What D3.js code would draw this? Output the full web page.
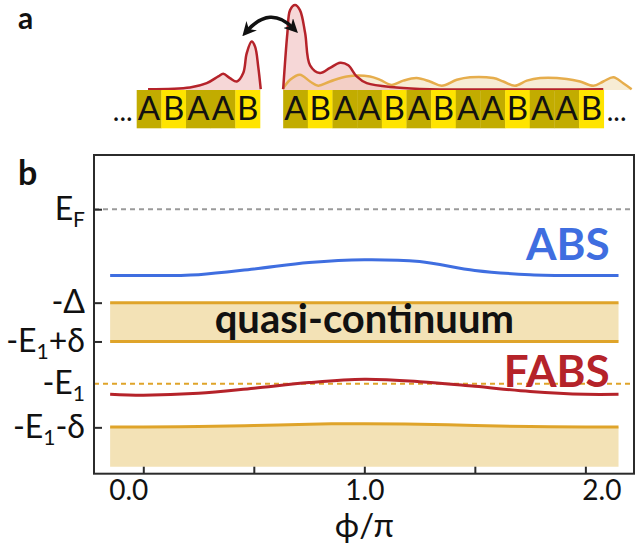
<!DOCTYPE html>
<html>
<head>
<meta charset="utf-8">
<script src="https://cdn.jsdelivr.net/npm/d3@7"></script>
<style>
body { margin: 0; background: #fff; }
svg text { font-family: Lato, "DejaVu Sans", sans-serif; fill: #111; }
</style>
</head>
<body>
<svg id="fig" width="640" height="549"></svg>
<script>
// ---- panel a: chain of sites ----
const chainLeft = "ABAAB".split("");
const chainRight = "ABAABABAABAAB".split("");
const rightStart = 5.94; // site index where right segment begins

// red state amplitude on the left piece (site position, amplitude)
const redLeftPos = [0.46, 2.16, 2.84, 3.31, 3.51, 3.78, 4.06, 4.32, 4.46, 4.66, 4.80, 4.93, 5.03];
const redLeftAmp = [0.01, 0.03, 0.08, 0.16, 0.19, 0.14, 0.10, 0.20, 0.43, 0.57, 0.51, 0.27, 0.01];
// red state on the right piece
const redRightPos = [5.94, 6.11, 6.22, 6.42, 6.62, 6.83, 7.03, 7.43, 7.84, 8.25, 8.58, 8.92, 9.33, 10.54, 11.89, 18.92];
const redRightAmp = [0.01, 0.67, 0.94, 1.00, 0.94, 0.67, 0.29, 0.20, 0.26, 0.32, 0.29, 0.16, 0.08, 0.03, 0.01, 0.01];
// orange state on the right piece
const orangePos = [5.92, 6.22, 6.62, 7.03, 7.36, 7.84, 8.52, 9.46, 9.87, 10.34, 10.81, 11.35, 11.89, 12.37,
  12.98, 13.52, 14.46, 14.87, 15.34, 15.82, 16.36, 17.44, 17.98, 18.52, 18.92, 19.33, 19.73, 20.07];
const orangeAmp = [0.01, 0.12, 0.18, 0.10, 0.05, 0.10, 0.16, 0.16, 0.12, 0.06, 0.11, 0.14, 0.10, 0.05,
  0.12, 0.15, 0.14, 0.10, 0.05, 0.11, 0.14, 0.13, 0.10, 0.05, 0.10, 0.15, 0.08, 0.01];

// ---- panel b: spectrum vs phase ----
const phi = [-0.15, 0, 0.25, 0.5, 0.75, 1, 1.25, 1.5, 1.75, 2, 2.15];
const absE = [-0.71, -0.71, -0.70, -0.64, -0.57, -0.54, -0.56, -0.655, -0.70, -0.71, -0.71];
const fabsE = [-1.98, -1.99, -1.97, -1.915, -1.855, -1.82, -1.845, -1.895, -1.95, -1.98, -1.98];
const lowContE = [-2.33, -2.33, -2.325, -2.315, -2.30, -2.295, -2.30, -2.315, -2.325, -2.33, -2.33];
const lowContBottom = -2.756;
const levelEF = 0;
const levelDelta = -1;
const levelE1pd = -1.415;
const levelE1 = -1.867;

const yTickValues = [0, -1, -1.415, -1.867, -2.334];
const yTickLabels = [["E", "F", ""], ["-\u0394", "", ""], ["-E", "1", "+\u03b4"], ["-E", "1", ""], ["-E", "1", "-\u03b4"]];
const xTickValues = [0, 0.5, 1, 1.5, 2];
const xTickLabels = ["0.0", "", "1.0", "", "2.0"];

const gold = "#dfa42a";
const band = "#f3e2b6";
const blue = "#3f6ee0";
const red = "#b5232a";

const svg = d3.select("#fig");

// defs: arrow head
const defs = svg.append("defs");
defs.append("marker")
  .attr("id", "head")
  .attr("viewBox", "0 0 10 10")
  .attr("refX", 5).attr("refY", 5)
  .attr("markerWidth", 14).attr("markerHeight", 14)
  .attr("markerUnits", "userSpaceOnUse")
  .attr("orient", "auto-start-reverse")
  .append("path")
  .attr("d", "M0,0 L10,5 L0,10 L3,5 Z")
  .attr("fill", "#111");

// ================= panel a =================
const sx = d3.scaleLinear().domain([0, 1]).range([136.7, 161.36]);
const sa = d3.scaleLinear().domain([0, 1]).range([90, 5]);
const cellW = sx(1) - sx(0);

svg.append("text").attr("x", 18).attr("y", 29)
  .attr("font-size", 30).attr("font-weight", 700).text("a");

const areaA = d3.area().x(d => sx(d[0])).y0(sa(0)).y1(d => sa(d[1])).curve(d3.curveCatmullRom);
const lineA = d3.line().x(d => sx(d[0])).y(d => sa(d[1])).curve(d3.curveCatmullRom);

const orangeData = d3.zip(orangePos, orangeAmp);
const redL = d3.zip(redLeftPos, redLeftAmp);
const redR = d3.zip(redRightPos, redRightAmp);

svg.append("path").datum(orangeData).attr("d", areaA).attr("fill", "#f1dcb0").attr("opacity", 0.55);
svg.append("path").datum(redL).attr("d", areaA).attr("fill", "#f0bcbc").attr("opacity", 0.6);
svg.append("path").datum(redR).attr("d", areaA).attr("fill", "#f0bcbc").attr("opacity", 0.6);
svg.append("path").datum(orangeData).attr("d", lineA).attr("fill", "none")
  .attr("stroke", "#e6ad4c").attr("stroke-width", 2.5);
[redL, redR].forEach(dd => {
  svg.append("path").datum(dd).attr("d", lineA).attr("fill", "none")
    .attr("stroke", red).attr("stroke-width", 2.5);
});

function drawChain(letters, start) {
  const g = svg.append("g");
  const cell = g.selectAll("g").data(letters).enter().append("g");
  cell.append("rect")
    .attr("x", (d, i) => sx(start + i))
    .attr("y", sa(0))
    .attr("width", cellW + 0.3)
    .attr("height", 38.3)
    .attr("fill", d => d === "A" ? "#c2ac00" : "#ffe400");
  cell.append("text")
    .attr("x", (d, i) => sx(start + i + 0.5))
    .attr("y", 120)
    .attr("text-anchor", "middle")
    .attr("font-size", 33)
    .text(d => d);
}
drawChain(chainLeft, 0);
drawChain(chainRight, rightStart);

svg.append("text").attr("x", sx(0) - 4).attr("y", 121).attr("text-anchor", "end")
  .attr("font-size", 28).text("...");
svg.append("text").attr("x", sx(rightStart + chainRight.length) + 3).attr("y", 121)
  .attr("font-size", 28).text("...");

// exchange arrow
svg.append("path")
  .attr("d", "M247,31 Q270,5 293,28")
  .attr("fill", "none").attr("stroke", "#111").attr("stroke-width", 3.5)
  .attr("marker-start", "url(#head)").attr("marker-end", "url(#head)");

// ================= panel b =================
const x = d3.scaleLinear().domain([-0.223, 2.22]).range([94, 634]);
const y = d3.scaleLinear().domain([-2.83, 0.58]).range([473.7, 155]);

svg.append("text").attr("x", 18).attr("y", 185)
  .attr("font-size", 34).attr("font-weight", 700).text("b");

const x0 = phi[0], x1 = phi[phi.length - 1];

// quasi-continuum band
svg.append("rect")
  .attr("x", x(x0)).attr("width", x(x1) - x(x0))
  .attr("y", y(levelDelta)).attr("height", y(levelE1pd) - y(levelDelta))
  .attr("fill", band);
// lower continuum
svg.append("path").datum(d3.zip(phi, lowContE))
  .attr("d", d3.area().x(d => x(d[0])).y0(y(lowContBottom)).y1(d => y(d[1])).curve(d3.curveCatmullRom))
  .attr("fill", band);

// dashed reference levels
svg.append("line").attr("x1", x(-0.223)).attr("x2", x(2.22))
  .attr("y1", y(levelEF)).attr("y2", y(levelEF))
  .attr("stroke", "#9a9a9a").attr("stroke-width", 2).attr("stroke-dasharray", "5,4");
svg.append("line").attr("x1", x(-0.223)).attr("x2", x(2.22))
  .attr("y1", y(levelE1)).attr("y2", y(levelE1))
  .attr("stroke", gold).attr("stroke-width", 2).attr("stroke-dasharray", "5,4");

const lineB = d3.line().x(d => x(d[0])).y(d => y(d[1])).curve(d3.curveCatmullRom);

[levelDelta, levelE1pd].forEach(v => {
  svg.append("line").attr("x1", x(x0)).attr("x2", x(x1))
    .attr("y1", y(v)).attr("y2", y(v))
    .attr("stroke", gold).attr("stroke-width", 3);
});
svg.append("path").datum(d3.zip(phi, lowContE)).attr("d", lineB)
  .attr("fill", "none").attr("stroke", gold).attr("stroke-width", 3);
svg.append("path").datum(d3.zip(phi, absE)).attr("d", lineB)
  .attr("fill", "none").attr("stroke", blue).attr("stroke-width", 3);
svg.append("path").datum(d3.zip(phi, fabsE)).attr("d", lineB)
  .attr("fill", "none").attr("stroke", red).attr("stroke-width", 3);

// labels
svg.append("text").attr("x", x(2.11)).attr("y", y(-0.54))
  .attr("text-anchor", "end").attr("font-size", 44).attr("font-weight", 700)
  .style("fill", blue).text("ABS");
svg.append("text").attr("x", x(2.11)).attr("y", y(-1.905))
  .attr("text-anchor", "end").attr("font-size", 44).attr("font-weight", 700)
  .style("fill", red).text("FABS");
svg.append("text").attr("x", x(1)).attr("y", y(-1.324))
  .attr("text-anchor", "middle").attr("font-size", 40).attr("font-weight", 700)
  .text("quasi-continuum");

// frame
svg.append("rect").attr("x", 94).attr("y", 155).attr("width", 540).attr("height", 318.7)
  .attr("fill", "none").attr("stroke", "#2b2b2b").attr("stroke-width", 2);

// y axis
const yAxis = svg.append("g").attr("transform", "translate(94,0)")
  .call(d3.axisLeft(y).tickValues(yTickValues).tickSize(-8).tickPadding(9));
yAxis.select(".domain").remove();
yAxis.selectAll(".tick line").attr("stroke", "#2b2b2b").attr("stroke-width", 2);
yAxis.selectAll(".tick").filter(d => d === levelE1).select("line").remove();
yAxis.selectAll(".tick text").each(function (d, i) {
  const t = d3.select(this).text(null).attr("font-size", 32).attr("fill", "#111");
  const L = yTickLabels[i];
  t.append("tspan").text(L[0]);
  if (L[1]) t.append("tspan").attr("font-size", 21).attr("dy", 7).text(L[1]);
  if (L[2]) t.append("tspan").attr("dy", -7).text(L[2]);
});

// x axis
const xAxis = svg.append("g").attr("transform", "translate(0,473.7)")
  .call(d3.axisBottom(x).tickValues(xTickValues).tickSize(-7).tickPadding(6)
    .tickFormat((d, i) => xTickLabels[i]));
xAxis.select(".domain").remove();
xAxis.selectAll(".tick line").attr("stroke", "#2b2b2b").attr("stroke-width", 2);
const xShift = [-15, 0, 0, 0, 16];
xAxis.selectAll(".tick text").attr("font-size", 28).attr("fill", "#222")
  .attr("dx", (d, i) => xShift[i]);

svg.append("text").attr("x", x(1)).attr("y", 537).attr("text-anchor", "middle")
  .attr("font-size", 33).text("\u03d5/\u03c0");
</script>
</body>
</html>
